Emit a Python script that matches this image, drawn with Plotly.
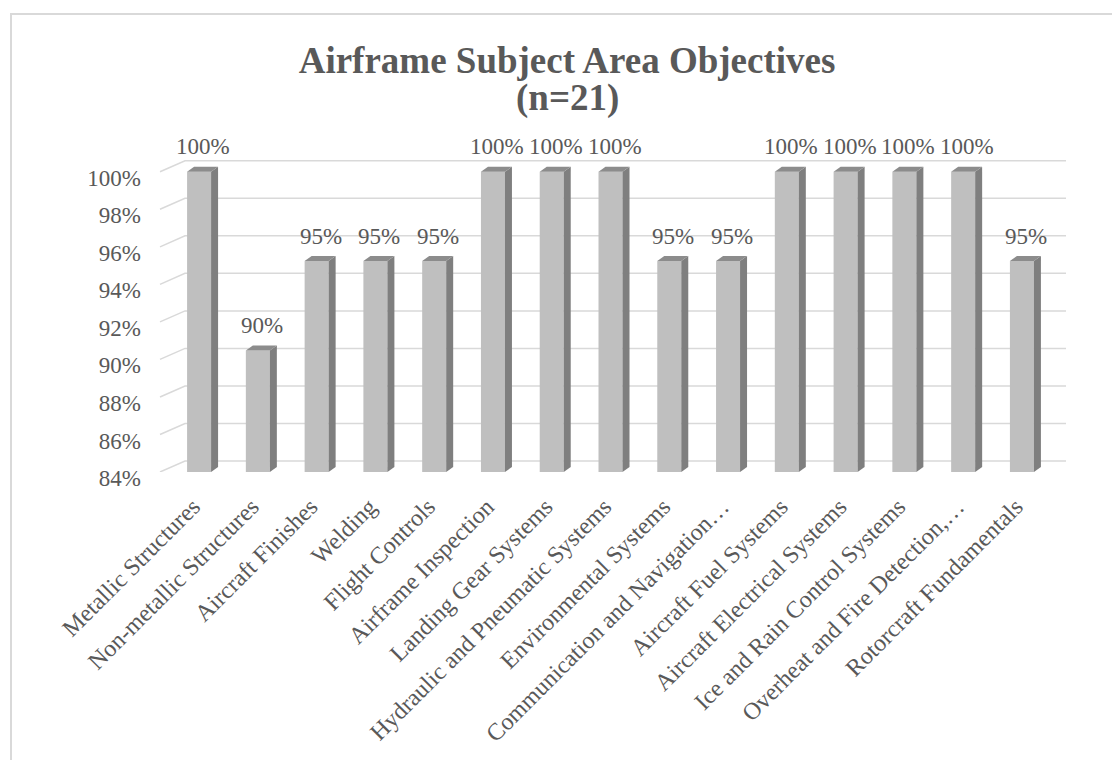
import plotly.graph_objects as go

categories = [
    "Metallic Structures", "Non-metallic Structures", "Aircraft Finishes", "Welding",
    "Flight Controls", "Airframe Inspection", "Landing Gear Systems",
    "Hydraulic and Pneumatic Systems", "Environmental Systems",
    "Communication and Navigation…", "Aircraft Fuel Systems",
    "Aircraft Electrical Systems", "Ice and Rain Control Systems",
    "Overheat and Fire Detection,…", "Rotorcraft Fundamentals",
]
values = [100, 90.48, 95.24, 95.24, 95.24, 100, 100, 100, 95.24, 95.24,
          100, 100, 100, 100, 95.24]
y_ticks = [84, 86, 88, 90, 92, 94, 96, 98, 100]

W, H = 1112, 760
L, R, T, B = 155, 46, 153, 288
XR = [-0.75, 14.75]
YR = [84, 101]
plot_w = W - L - R
plot_h = H - T - B
px_x = plot_w / (XR[1] - XR[0])
px_y = plot_h / (YR[1] - YR[0])

FONT = "Liberation Serif, Times New Roman, serif"
TXT = "#595959"
GRID = "#d9d9d9"
FRONT = "#bfbfbf"
SIDE = "#7f7f7f"
TOP = "#8c8c8c"

bar_w = 24 / px_x
bdx = 7 / px_x
bdy = 5 / px_y
wall_dx = 25 / px_x
wall_dy = 11 / px_y
front_left = XR[0] + 5 / px_x

idx = list(range(len(categories)))

fig = go.Figure()
fig.add_trace(go.Bar(
    x=idx, y=[v - YR[0] for v in values], base=YR[0], width=bar_w,
    marker=dict(color=FRONT, line=dict(width=0)), hoverinfo="skip",
))

shapes = []
# back wall gridlines with floor diagonal
for t in y_ticks:
    shapes.append(dict(
        type="path", xref="x", yref="y", layer="below",
        path=f"M{front_left},{t} L{front_left + wall_dx},{t + wall_dy} L{XR[1]},{t + wall_dy}",
        line=dict(color=GRID, width=1.5),
    ))
# 3D sides and tops of bars
for i, v in zip(idx, values):
    xl = i - bar_w / 2
    xr = i + bar_w / 2
    shapes.append(dict(
        type="path", xref="x", yref="y", layer="above",
        path=f"M{xr},{v} L{xr + bdx},{v + bdy} L{xr + bdx},{YR[0] + bdy} L{xr},{YR[0]} Z",
        fillcolor=SIDE, line=dict(width=0),
    ))
    shapes.append(dict(
        type="path", xref="x", yref="y", layer="above",
        path=f"M{xl},{v} L{xl + bdx},{v + bdy} L{xr + bdx},{v + bdy} L{xr},{v} Z",
        fillcolor=TOP, line=dict(width=0),
    ))
# outer chart border
shapes.append(dict(
    type="rect", xref="paper", yref="paper",
    x0=(11 - L) / plot_w, x1=(W + 20 - L) / plot_w,
    y0=(H - B - (H + 20)) / plot_h, y1=(H - B - 14) / plot_h,
    line=dict(color=GRID, width=2), fillcolor="rgba(0,0,0,0)", layer="below",
))

annotations = []
for i, v in zip(idx, values):
    annotations.append(dict(
        x=i, y=v, xref="x", yref="y", text=f"{round(v)}%", showarrow=False,
        yshift=25, xshift=4, yanchor="middle",
        font=dict(family=FONT, size=23, color=TXT),
    ))
annotations.append(dict(
    x=(567 - L) / plot_w, y=(H - B - 98) / plot_h, xref="paper", yref="paper",
    text="<b>(n=21)</b>", showarrow=False, xanchor="center", yanchor="middle",
    font=dict(family=FONT, size=37, color=TXT),
))

fig.update_layout(
    width=W, height=H,
    margin=dict(l=L, r=R, t=T, b=B, autoexpand=False),
    paper_bgcolor="white", plot_bgcolor="rgba(0,0,0,0)",
    showlegend=False,
    title=dict(
        text="<b>Airframe Subject Area Objectives</b>",
        x=567 / W, xanchor="center", y=1 - 60 / H, yanchor="middle",
        xref="container", yref="container",
        font=dict(family=FONT, size=37, color=TXT),
    ),
    xaxis=dict(
        range=XR, tickmode="array", tickvals=idx, ticktext=categories,
        tickangle=-45, showgrid=False, zeroline=False, showline=False,
        ticks="", automargin=False, ticklabelstandoff=15, ticklabelshift=-6,
        tickfont=dict(family=FONT, size=24, color=TXT),
    ),
    yaxis=dict(
        range=YR, tickmode="array", tickvals=y_ticks,
        ticktext=[f"{t}%" for t in y_ticks],
        showgrid=False, zeroline=False, showline=False, ticks="",
        automargin=False, ticklabelstandoff=13, ticklabelshift=6,
        tickfont=dict(family=FONT, size=23, color=TXT),
    ),
    shapes=shapes,
    annotations=annotations,
)

fig.write_html("out.html")
